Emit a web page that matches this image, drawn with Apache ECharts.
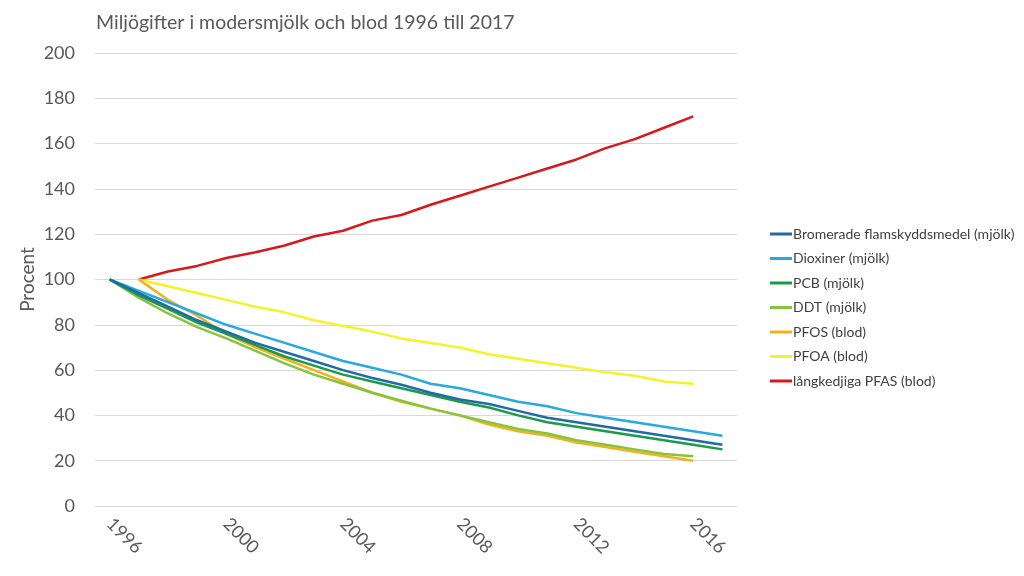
<!DOCTYPE html>
<html>
<head>
<meta charset="utf-8">
<script src="https://cdn.jsdelivr.net/npm/echarts@6/dist/echarts.min.js"></script>
<style>html,body{margin:0;padding:0;background:#fff}#c{width:1024px;height:576px}</style>
</head>
<body>
<div id="c"></div>
<script>
const years = ['1996','1997','1998','1999','2000','2001','2002','2003','2004','2005','2006','2007','2008','2009','2010','2011','2012','2013','2014','2015','2016','2017'];
const bromerade = [100,94,88,82,77,72,68,64,60,56.5,53.5,50,47,45,42,39,37,35,33,31,29,27];
const dioxiner = [100,95,90,85,80,76,72,68,64,61,58,54,52,49,46,44,41,39,37,35,33,31];
const pcb = [100,93,87,81,76,71,66,62,58,55,52,49,46,43.5,40,37,35,33,31,29,27,25];
const ddt = [100,92,85,79,74,68.5,63,58,54,50,46.5,43,40,37,34,32,29,27,25,23,22,null];
const pfos = [null,100,91,84,76,70,65,60,55,50,46,43,40,36,33,31,28,26,24,22,20,null];
const pfoa = [null,100,97,94,91,88,85.5,82,79.5,77,74,72,70,67,65,63,61,59,57.5,55,54,null];
const pfas = [null,100,103.5,106,109.5,112,115,119,121.5,126,128.5,133,137,141,145,149,153,158,162,167,172,null];

const names = ['Bromerade flamskyddsmedel (mjölk)','Dioxiner (mjölk)','PCB (mjölk)','DDT (mjölk)','PFOS (blod)','PFOA (blod)','långkedjiga PFAS (blod)'];
const colors = ['#1F6BA5','#27A9E1','#1A9A4B','#86C440','#F2B21B','#F5F229','#D7191C'];
const datas = [bromerade,dioxiner,pcb,ddt,pfos,pfoa,pfas];

const FONT = 'Lato';
const chart = echarts.init(document.getElementById('c'));
chart.setOption({
  animation:false,
  title:{text:'Miljögifter i modersmjölk och blod 1996 till 2017',left:91,top:8,textStyle:{fontFamily:FONT,fontWeight:'normal',fontSize:19.5,color:'#595959'}},
  grid:{left:95,right:287,top:53,bottom:70},
  legend:{orient:'vertical',left:765,top:222,itemWidth:22,itemHeight:3,itemGap:10.5,icon:'rect',
    textStyle:{fontFamily:FONT,fontSize:14,color:'#404040',padding:[0,0,0,-4]},data:names},
  xAxis:{type:'category',data:years,boundaryGap:true,
    axisLine:{show:false},axisTick:{show:false},
    axisLabel:{interval:3,rotate:-45,fontFamily:FONT,fontSize:18,color:'#595959',margin:15}},
  yAxis:{type:'value',min:0,max:200,interval:20,name:'Procent',nameLocation:'middle',nameGap:58,nameRotate:90,
    nameMoveOverlap:false,
    nameTextStyle:{fontFamily:FONT,fontSize:19,color:'#595959'},
    axisLine:{show:false},axisTick:{show:false},
    axisLabel:{fontFamily:FONT,fontSize:18,color:'#595959',margin:20},
    splitLine:{lineStyle:{color:'#D9D9D9',width:1}}},
  series:datas.map((d,i)=>({name:names[i],type:'line',data:d,symbol:'none',smooth:false,
    lineStyle:{color:colors[i],width:2.5},itemStyle:{color:colors[i]},z:10-i}))
});
</script>
</body>
</html>
